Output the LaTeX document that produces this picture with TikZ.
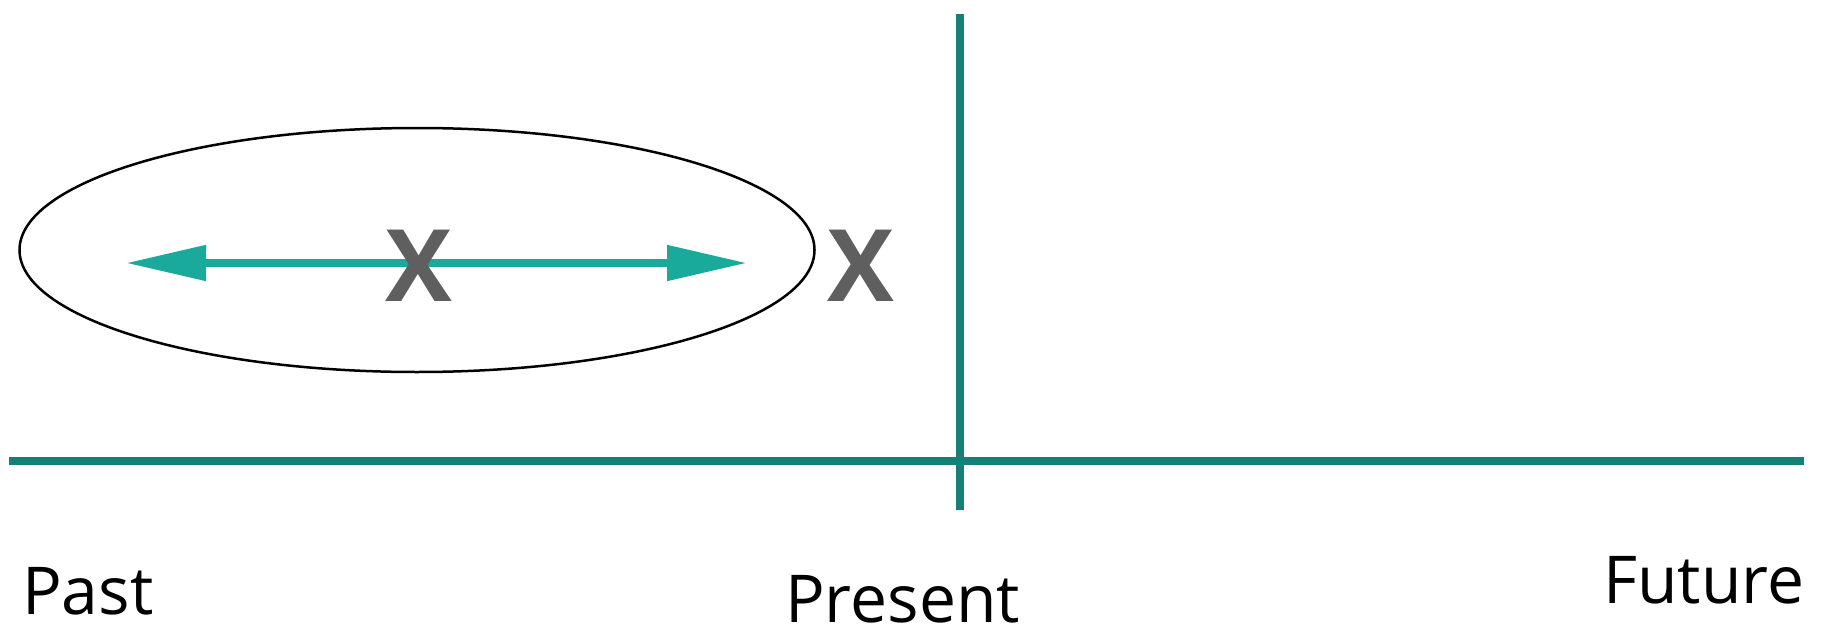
\documentclass[tikz,border=0pt]{standalone}
\usepackage{fontspec}
\setmainfont{Open Sans}
\usetikzlibrary{arrows.meta,shapes.geometric}
\definecolor{axisteal}{RGB}{20,128,120}
\definecolor{arrowteal}{RGB}{26,170,155}
\definecolor{xgray}{RGB}{95,95,95}
\tikzset{
  axisline/.style={draw=axisteal,line width=7.5pt},
  spanarrow/.style={draw=arrowteal,line width=8pt,{Triangle[length=80pt,width=34pt]}-{Triangle[length=80pt,width=34pt]}},
  xmark/.style={text=xgray,font=\fontsize{100}{100}\selectfont\bfseries,inner sep=0pt,anchor=base,text depth=0pt},
  timelabel/.style={font=\fontsize{66}{66}\selectfont,inner sep=0pt,anchor=base west,text depth=0pt},
  window/.style={ellipse,draw=black,line width=2.5pt,minimum width=795pt,minimum height=244pt,inner sep=0pt}
}
\begin{document}
\begin{tikzpicture}[x=1pt,y=-1pt]
\useasboundingbox (0,0) rectangle (1825,626);
% axes
\coordinate (hl) at (9,461);
\coordinate (hr) at (1804,461);
\coordinate (vt) at (960,14);
\coordinate (vb) at (960,510);
\draw[axisline] (hl) -- (hr);
\draw[axisline] (vt) -- (vb);
% ellipse
\node[window] (win) at (417,250) {};
% arrow
\coordinate (al) at (126,263);
\coordinate (ar) at (747,263);
\draw[spanarrow] (al) -- (ar);
% x marks
\node[xmark] (x1) at (419,301) {X};
\node[xmark] (x2) at (861,301) {X};
% labels
\node[timelabel] (past) at (22,614) {Past};
\node[timelabel] (present) at (785,622) {Present};
\node[timelabel] (future) at (1603,603) {Future};
\end{tikzpicture}
\end{document}
